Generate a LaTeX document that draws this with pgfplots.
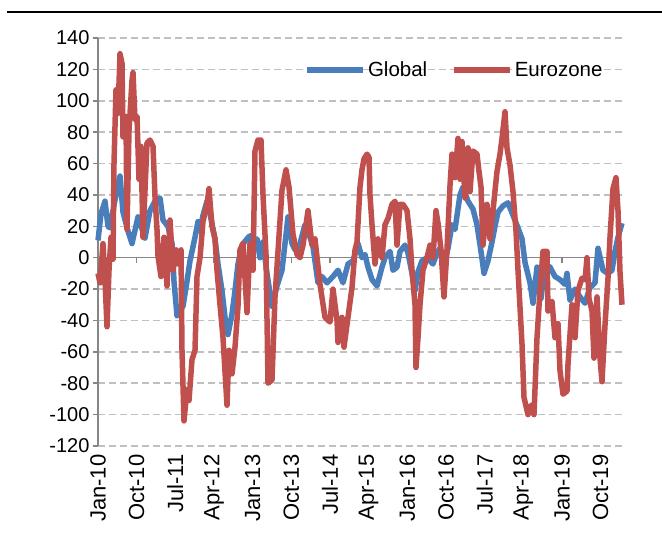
\documentclass[border=0pt]{standalone}
\usepackage{fontspec}
\setmainfont{Liberation Sans}
\usepackage{pgfplots}
\pgfplotsset{compat=1.18}
\definecolor{gblue}{RGB}{74,126,187}
\definecolor{ered}{RGB}{192,80,77}
\definecolor{gridgray}{RGB}{192,192,192}
\definecolor{axgray}{RGB}{134,134,134}
\begin{document}
\begin{tikzpicture}[x=1pt,y=1pt]
\path[use as bounding box] (0,0) rectangle (662,-544);
\draw[line width=2pt] (7,-12) -- (662,-12);
\begin{axis}[
  at={(98pt,-446pt)}, anchor=south west,
  width=525pt, height=408pt, scale only axis,
  xmin=0, xmax=525, ymin=-120, ymax=140,
  axis lines=left, axis line style={-},
  x axis line style={draw=none},
  y axis line style={draw=axgray, line width=1.5pt},
  ytick={-120,-100,...,140},
  xtick={0,38.67,77.33,116,154.67,193.33,232,270.67,309.33,348,386.67,425.33,464,502.67},
  xticklabels={Jan-10,Oct-10,Jul-11,Apr-12,Jan-13,Oct-13,Jul-14,Apr-15,Jan-16,Oct-16,Jul-17,Apr-18,Jan-19,Oct-19},
  ymajorgrids,
  major grid style={gridgray, line width=1.5pt, dash pattern=on 7pt off 4pt},
  tick align=outside, major tick length=5pt,
  y tick style={axgray, line width=1.5pt},
  x tick style={draw=none},
  yticklabel style={font=\fontsize{20}{24}\selectfont},
  /pgf/number format/assume math mode=true,
  xticklabel style={font=\fontsize{22}{26}\selectfont, rotate=90, anchor=east, yshift=0pt},
  legend columns=2,
  legend style={draw=none, fill=none, at={(axis description cs:0.393,0.9216)}, anchor=west,
    font=\fontsize{20.5}{24}\selectfont, inner sep=0pt,
    nodes={inner sep=2pt},
    /tikz/every even column/.append style={column sep=22pt}},
  legend image code/.code={\draw[#1, line width=5.5pt] (0pt,0pt) -- (56pt,0pt);},
  clip=false,
]
\draw[axgray, line width=1.5pt] (axis cs:0,0) -- (axis cs:525,0);
\pgfplotsinvokeforeach{0,...,13}{\draw[axgray, line width=1.5pt] (axis cs:{#1*38.667},0) -- ++(0pt,-5pt);}
\addplot[gblue, line width=5.5pt, line join=round, no markers] table {
x y
0 11
3 28
7 36
10 20
12 19
15 30
18 40
22 52
25 29
30 17
34 9
40 26
47 12.5
52 30
57 36
62 38
65 24
70 20
74 9
76 -15
79 -37
82 -33
85 -31
89 -15
92 -2
97 13
100 23
102 17
105 27
109 36
113 25
117 12
120 -4
124 -21
127 -38
130 -49
134 -36
137 -21
140 -4
144 8
149 12
152 14
155 6
159 12
162 0
165 10
169 -10
174 -31
179 -18
184 -8
187 9
190 26
194 9
197 5
202 9
207 21
210 17
215 7
220 -16
224 -12
229 -16
235 -12
240 -8
245 -16
250 -4
255 -2
260 9
264 0
267 2
270 -6
274 -14
279 -18
284 -6
287 0
292 4
295 -8
299 -6
302 4
307 8
310 3
314 -10
317 -21
320 -9
324 -2
329 0
335 -4
339 3
342 6
347 -2
350 6
354 21
357 18
362 40
365 45
370 36
375 31
379 21
383 4
386 -10
390 -2
394 10
397 20
400 29
405 33
410 35
415 27
420 19
424 12
427 -3
432 -16
435 -29
439 -6
443 -26
447 -4
452 -6
457 -12
462 -14
467 -17
469 -10
472 -27
477 -20
482 -25
487 -29
492 -19
497 -16
500 6
505 -8
510 -10
514 -8
517 4
520 13
524 22
};
\addlegendentry{Global}
\addplot[ered, line width=5.5pt, line join=round, no markers] table {
x y
0 -10
2 -16
5 9
7 -14
9 -44
11 -8
13 13
15 -1
16 60
18 107
20 92
22 130
24 124
25 77
28 90
29 18
31 81
34 113
35 118
37 88
39 90
41 50
43 71
45 13
47 43
49 73
52 75
55 71
57 39
59 18
60 1
63 -12
66 13
69 -18
72 24
75 -8
78 5
80 -4
83 5
84 -59
86 -104
89 -84
91 -91
94 -65
97 -59
99 -12
102 0
105 23
109 34
111 44
114 20
117 12
119 -8
122 -30
125 -51
129 -94
131 -59
134 -74
137 -57
140 -31
142 5
145 9
149 -35
152 9
155 -8
157 68
160 75
163 75
165 40
168 2
170 -80
174 -78
177 -25
180 4
184 43
188 56
191 45
195 15
199 2
202 0
205 8
210 30
214 8
217 12
222 -17
227 -38
232 -41
235 -20
239 -40
240 -54
244 -38
246 -57
250 -38
254 -19
257 5
259 10
262 45
264 56
266 63
269 66
271 64
272 40
274 21
277 -4
280 12
284 0
287 21
290 25
294 34
297 36
299 8
302 34
305 34
309 30
312 12
314 -8
317 -30
318 -70
320 -51
322 -30
325 -8
329 0
332 8
335 0
338 30
340 22
343 5
346 -25
349 5
352 46
354 66
356 55
357 51
360 76
362 50
364 74
367 38
370 70
372 42
375 68
379 66
381 55
383 45
385 8
389 34
392 12
395 30
399 55
402 66
404 76
407 93
409 70
412 59
415 42
418 17
420 -8
424 -55
426 -89
430 -100
433 -94
436 -100
439 -51
442 -21
445 4
449 4
450 -34
454 -28
457 -51
460 -42
462 -72
465 -87
469 -85
470 -68
474 -30
477 -51
480 -21
484 -13
487 -14
489 0
491 -26
494 -34
496 -64
499 -25
502 -64
504 -79
507 -43
510 -13
512 13
515 44
518 51
520 30
522 -9
524 -30
};
\addlegendentry{Eurozone}
\end{axis}
\end{tikzpicture}
\end{document}
